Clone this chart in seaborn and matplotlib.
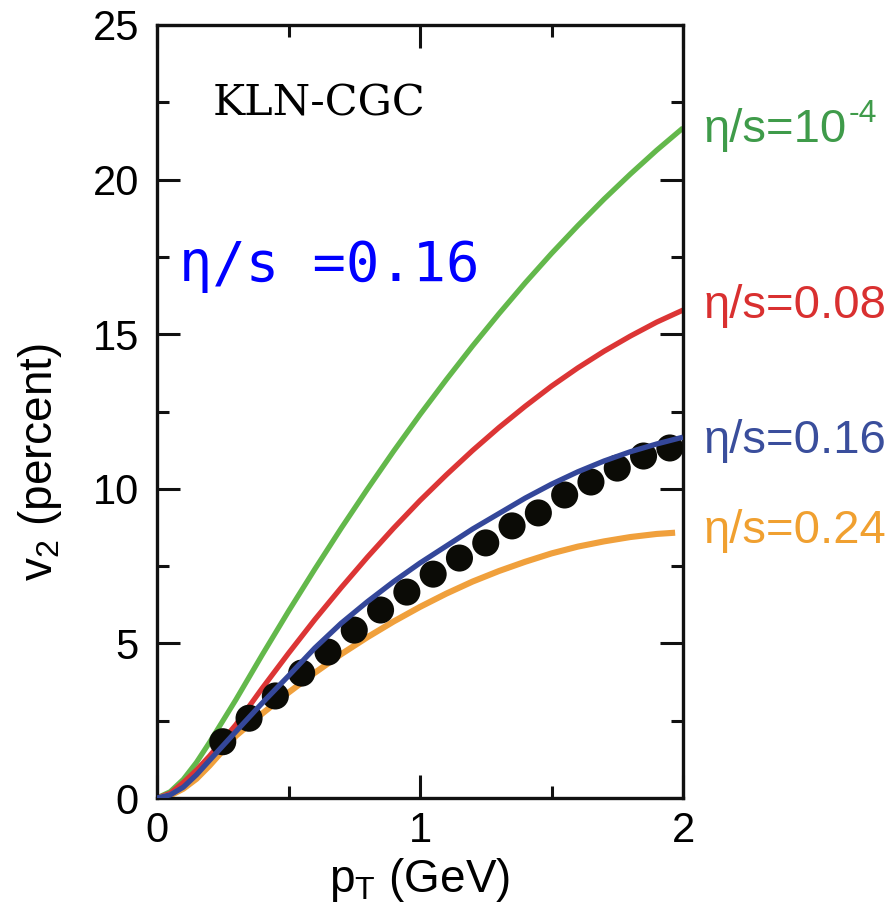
import numpy as np
import pandas as pd
import matplotlib
matplotlib.use("Agg")
import matplotlib.pyplot as plt
import seaborn as sns

# ---- data ----
pt_curve = [0.0, 0.05, 0.1, 0.15, 0.2, 0.3, 0.4, 0.5, 0.6, 0.7, 0.8, 0.9, 1.0,
            1.1, 1.2, 1.3, 1.4, 1.5, 1.6, 1.7, 1.8, 1.9, 2.0]
v2_eta_1e4 = [0.0, 0.2, 0.6, 1.15, 1.8, 3.18, 4.63, 6.04, 7.40, 8.72, 9.99, 11.22, 12.40,
              13.53, 14.62, 15.66, 16.66, 17.61, 18.51, 19.37, 20.18, 20.95, 21.67]
v2_eta_008 = [0.0, 0.15, 0.5, 0.9, 1.36, 2.37, 3.55, 4.68, 5.77, 6.80, 7.79, 8.73, 9.62,
              10.45, 11.24, 11.98, 12.67, 13.32, 13.91, 14.45, 14.94, 15.39, 15.78]
v2_eta_016 = [0.0, 0.1, 0.35, 0.75, 1.22, 2.15, 3.07, 3.95, 4.85, 5.65, 6.35, 7.0, 7.6,
              8.15, 8.7, 9.2, 9.7, 10.15, 10.55, 10.9, 11.2, 11.45, 11.67]
pt_curve_024 = [0.0, 0.05, 0.1, 0.15, 0.2, 0.3, 0.4, 0.5, 0.6, 0.7, 0.8, 0.9, 1.0,
                1.1, 1.2, 1.3, 1.4, 1.5, 1.6, 1.7, 1.8, 1.9, 1.97]
v2_eta_024 = [0.0, 0.08, 0.3, 0.62, 1.05, 2.01, 2.73, 3.41, 4.05, 4.65, 5.20, 5.71, 6.18,
              6.61, 7.00, 7.34, 7.64, 7.91, 8.13, 8.30, 8.44, 8.54, 8.58]

pt_data = [0.25, 0.35, 0.45, 0.55, 0.65, 0.75, 0.85, 0.95, 1.05, 1.15, 1.25,
           1.35, 1.45, 1.55, 1.65, 1.75, 1.85, 1.95]
v2_data = [1.82, 2.58, 3.30, 4.04, 4.72, 5.43, 6.08, 6.66, 7.24, 7.76, 8.25,
           8.80, 9.22, 9.80, 10.22, 10.67, 11.06, 11.32]

label_texts = ["η/s=10", "η/s=0.08", "η/s=0.16", "η/s=0.24"]
label_sup = ["-4", "", "", ""]
x_ticks = [0, 1, 2]
y_ticks = [0, 5, 10, 15, 20, 25]

line_colors = {"eta1e-4": "#63b84b", "eta0.08": "#dc3535",
               "eta0.16": "#34479a", "eta0.24": "#f0a03c"}
label_colors = ["#3f9b4a", "#d93030", "#3a4e9c", "#f0a030"]

# ---- figure ----
sns.set_theme(style="ticks")
plt.rcParams["font.family"] = ["Liberation Sans", "DejaVu Sans"]
plt.rcParams["mathtext.fontset"] = "custom"
plt.rcParams["mathtext.rm"] = "Liberation Sans"
plt.rcParams["mathtext.it"] = "Liberation Sans:italic"
plt.rcParams["text.color"] = "black"
plt.rcParams["axes.labelcolor"] = "black"
plt.rcParams["xtick.color"] = "black"
plt.rcParams["ytick.color"] = "black"

fig = plt.figure(figsize=(8.96, 9.14), dpi=100)
ax = fig.add_axes([157 / 896, 116 / 914, 526 / 896, 773 / 914])

df_lines = pd.concat([
    pd.DataFrame({"pt": pt_curve, "v2": v2_eta_1e4, "s": "eta1e-4"}),
    pd.DataFrame({"pt": pt_curve, "v2": v2_eta_008, "s": "eta0.08"}),
], ignore_index=True)
df_orange = pd.DataFrame({"pt": pt_curve_024, "v2": v2_eta_024, "s": "eta0.24"})
df_blue = pd.DataFrame({"pt": pt_curve, "v2": v2_eta_016, "s": "eta0.16"})
df_data = pd.DataFrame({"pt": pt_data, "v2": v2_data})

sns.lineplot(data=df_lines, x="pt", y="v2", hue="s", palette=line_colors,
             estimator=None, sort=False, linewidth=3.8, legend=False, ax=ax, zorder=2)
sns.lineplot(data=df_orange, x="pt", y="v2", hue="s", palette=line_colors,
             estimator=None, sort=False, linewidth=4.4, legend=False, ax=ax, zorder=2)
sns.scatterplot(data=df_data, x="pt", y="v2", color="#0b0b06", s=380,
                edgecolor="none", legend=False, ax=ax, zorder=3)
sns.lineplot(data=df_blue, x="pt", y="v2", hue="s", palette=line_colors,
             estimator=None, sort=False, linewidth=3.8, legend=False, ax=ax, zorder=4)
for ln in ax.lines:
    ln.set_solid_capstyle("butt")
    ln.set_solid_joinstyle("round")

ax.set_xlim(0, 2)
ax.set_ylim(0, 25)
ax.set_xticks(x_ticks)
ax.set_yticks(y_ticks)
ax.set_xticks([0.5, 1.5], minor=True)
ax.set_yticks([2.5, 7.5, 12.5, 17.5, 22.5], minor=True)
ax.tick_params(which="both", direction="in", top=True, right=True, width=2.2,
               color="#111111")
ax.tick_params(which="major", length=16.5, labelsize=30, pad=13)
ax.tick_params(axis="x", which="major", pad=9)
ax.tick_params(which="minor", length=8.5)
for sp in ax.spines.values():
    sp.set_linewidth(2.4)
    sp.set_color("#111111")

ax.set_xlabel(r"p$_\mathregular{T}$ (GeV)", fontsize=33, labelpad=4)
ax.set_ylabel("")
fig.text(40 / 896, 1 - 462 / 914, r"v$_\mathregular{2}$ (percent)", rotation=90,
         ha="center", va="center", fontsize=33)

ax.text(0.213, 22.45, "KLN-CGC", family="DejaVu Serif", fontsize=31,
        ha="left", va="center", color="black")
ax.text(0.085, 17.2, "η/s =0.16", family="DejaVu Sans Mono", fontsize=40,
        ha="left", va="center", color="#0000ff")

label_y = [21.6, 15.9, 11.55, 8.65]
fig.canvas.draw()
renderer = fig.canvas.get_renderer()
for txt, sup, yv, c in zip(label_texts, label_sup, label_y, label_colors):
    t = ax.text(2.08, yv, txt, fontsize=34, color=c, ha="left", va="center",
                clip_on=False)
    if sup:
        bb = t.get_window_extent(renderer=renderer)
        fig.text((bb.x1 + 1) / fig.bbox.width, (bb.y1 + 9) / fig.bbox.height, sup,
                 fontsize=23, color=c, ha="left", va="top")

fig.savefig("out.png", dpi=100)
